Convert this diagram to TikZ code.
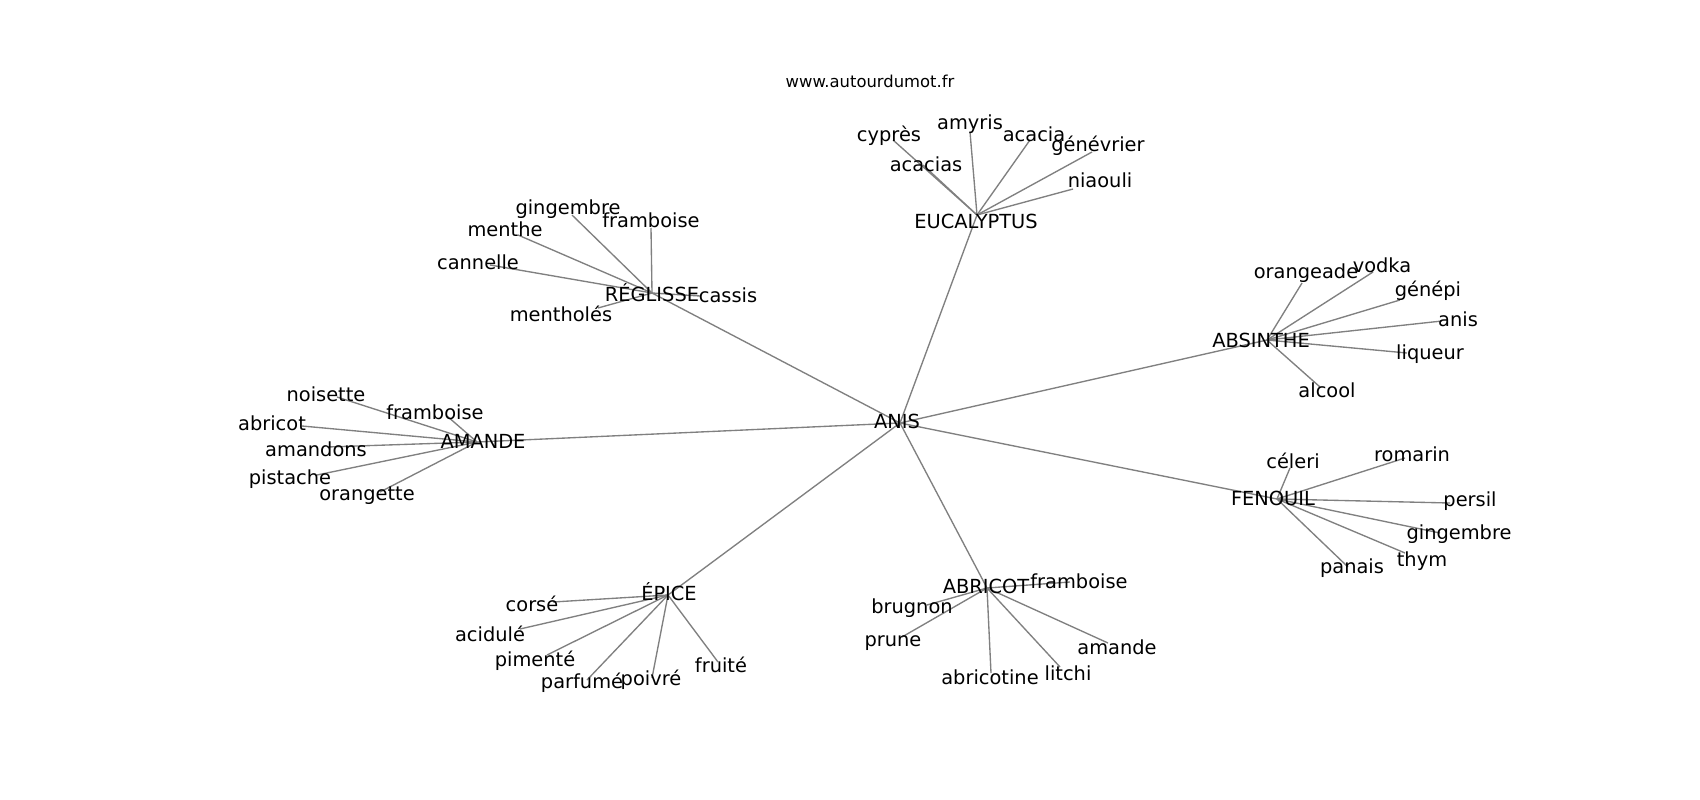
\documentclass[tikz,border=0pt]{standalone}
\usepackage{fontspec}
\setmainfont{DejaVu Sans}
\definecolor{edgegray}{RGB}{128,128,128}
\tikzset{
  lbl/.style={font=\fontsize{19.4}{22}\selectfont, inner sep=0pt, anchor=base, text=black},
  ttl/.style={font=\fontsize{16.4}{19}\selectfont, inner sep=0pt, anchor=base, text=black},
  edge/.style={draw=edgegray, line width=1.35pt}
}
\begin{document}
\begin{tikzpicture}[x=1pt,y=-1pt]
\useasboundingbox[fill=white] (0,0) rectangle (1700,800);
% node points
\coordinate (ANIS) at (900,423);
\coordinate (EUC) at (977,215);
\coordinate (REG) at (652,293);
\coordinate (ABS) at (1267,340);
\coordinate (AMA) at (477,442);
\coordinate (EPI) at (668,595);
\coordinate (ABR) at (987,588);
\coordinate (FEN) at (1277,499);
% EUCALYPTUS leaves
\coordinate (e1) at (893,140);
\coordinate (e2) at (923,165);
\coordinate (e3) at (970,132);
\coordinate (e4) at (1030,140);
\coordinate (e5) at (1092,152);
\coordinate (e6) at (1073,189);
% REGLISSE leaves
\coordinate (r1) at (572,215);
\coordinate (r2) at (651,228);
\coordinate (r3) at (518,235);
\coordinate (r4) at (490,265);
\coordinate (r5) at (598,308);
\coordinate (r6) at (700,296);
% ABSINTHE leaves
\coordinate (b1) at (1302,283);
\coordinate (b2) at (1373,272);
\coordinate (b3) at (1400,300);
\coordinate (b4) at (1442,321);
\coordinate (b5) at (1407,353);
\coordinate (b6) at (1320,387);
% AMANDE leaves
\coordinate (m1) at (337,397);
\coordinate (m2) at (447,416);
\coordinate (m3) at (302,426);
\coordinate (m4) at (327,447);
\coordinate (m5) at (317,475);
\coordinate (m6) at (380,492);
% EPICE leaves
\coordinate (p1) at (553,602);
\coordinate (p2) at (520,629);
\coordinate (p3) at (547,655);
\coordinate (p4) at (587,680);
\coordinate (p5) at (652,678);
\coordinate (p6) at (718,662);
% ABRICOT leaves
\coordinate (a1) at (1070,582);
\coordinate (a2) at (927,605);
\coordinate (a3) at (902,637);
\coordinate (a4) at (991,673);
\coordinate (a5) at (1060,667);
\coordinate (a6) at (1108,643);
% FENOUIL leaves
\coordinate (f1) at (1290,468);
\coordinate (f2) at (1405,458);
\coordinate (f3) at (1450,503);
\coordinate (f4) at (1440,533);
\coordinate (f5) at (1405,553);
\coordinate (f6) at (1348,567);
% edges
\foreach \h in {EUC,REG,ABS,AMA,EPI,ABR,FEN} \draw[edge] (ANIS) -- (\h);
\foreach \l in {e1,e2,e3,e4,e5,e6} \draw[edge] (EUC) -- (\l);
\foreach \l in {r1,r2,r3,r4,r5,r6} \draw[edge] (REG) -- (\l);
\foreach \l in {b1,b2,b3,b4,b5,b6} \draw[edge] (ABS) -- (\l);
\foreach \l in {m1,m2,m3,m4,m5,m6} \draw[edge] (AMA) -- (\l);
\foreach \l in {p1,p2,p3,p4,p5,p6} \draw[edge] (EPI) -- (\l);
\foreach \l in {a1,a2,a3,a4,a5,a6} \draw[edge] (ABR) -- (\l);
\foreach \l in {f1,f2,f3,f4,f5,f6} \draw[edge] (FEN) -- (\l);
% labels
\node[ttl] (title) at (870,88) {www.autourdumot.fr};
\node[lbl] (lANIS) at (897,428) {ANIS};
\node[lbl] (lEUC) at (976,228) {EUCALYPTUS};
\node[lbl] (le1) at (889,141) {cyprès};
\node[lbl] (le2) at (926,171) {acacias};
\node[lbl] (le3) at (970,129) {amyris};
\node[lbl] (le4) at (1034,141) {acacia};
\node[lbl] (le5) at (1098,151) {génévrier};
\node[lbl] (le6) at (1100,187) {niaouli};
\node[lbl] (lREG) at (652,301) {RÉGLISSE};
\node[lbl] (lr1) at (568,214) {gingembre};
\node[lbl] (lr2) at (651,227) {framboise};
\node[lbl] (lr3) at (505,236) {menthe};
\node[lbl] (lr4) at (478,269) {cannelle};
\node[lbl] (lr5) at (561,321) {mentholés};
\node[lbl] (lr6) at (728,302) {cassis};
\node[lbl] (lABS) at (1261,347) {ABSINTHE};
\node[lbl] (lb1) at (1306,278) {orangeade};
\node[lbl] (lb2) at (1382,272) {vodka};
\node[lbl] (lb3) at (1428,296) {génépi};
\node[lbl] (lb4) at (1458,326) {anis};
\node[lbl] (lb5) at (1430,359) {liqueur};
\node[lbl] (lb6) at (1327,397) {alcool};
\node[lbl] (lAMA) at (483,448) {AMANDE};
\node[lbl] (lm1) at (326,401) {noisette};
\node[lbl] (lm2) at (435,419) {framboise};
\node[lbl] (lm3) at (272,430) {abricot};
\node[lbl] (lm4) at (316,456) {amandons};
\node[lbl] (lm5) at (290,484) {pistache};
\node[lbl] (lm6) at (367,500) {orangette};
\node[lbl] (lEPI) at (669,600) {ÉPICE};
\node[lbl] (lp1) at (532,611) {corsé};
\node[lbl] (lp2) at (490,641) {acidulé};
\node[lbl] (lp3) at (535,666) {pimenté};
\node[lbl] (lp4) at (582,688) {parfumé};
\node[lbl] (lp5) at (651,685) {poivré};
\node[lbl] (lp6) at (721,672) {fruité};
\node[lbl] (lABR) at (986,593) {ABRICOT};
\node[lbl] (la1) at (1079,588) {framboise};
\node[lbl] (la2) at (912,613) {brugnon};
\node[lbl] (la3) at (893,646) {prune};
\node[lbl] (la4) at (990,684) {abricotine};
\node[lbl] (la5) at (1068,680) {litchi};
\node[lbl] (la6) at (1117,654) {amande};
\node[lbl] (lFEN) at (1273,505) {FENOUIL};
\node[lbl] (lf1) at (1293,468) {céleri};
\node[lbl] (lf2) at (1412,461) {romarin};
\node[lbl] (lf3) at (1470,506) {persil};
\node[lbl] (lf4) at (1459,539) {gingembre};
\node[lbl] (lf5) at (1422,566) {thym};
\node[lbl] (lf6) at (1352,573) {panais};
\end{tikzpicture}
\end{document}
